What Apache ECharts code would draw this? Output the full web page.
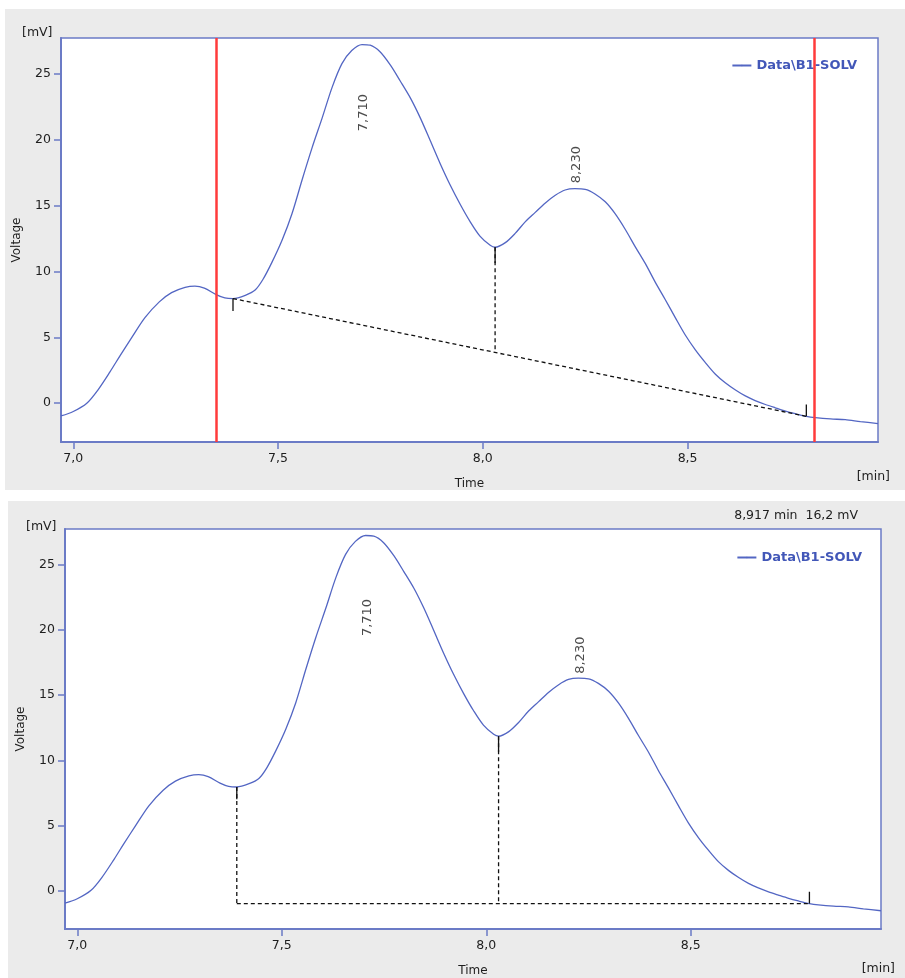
<!DOCTYPE html>
<html><head><meta charset="utf-8">
<script src="https://cdn.jsdelivr.net/npm/echarts@6/dist/echarts.min.js"></script>
<style>html,body{margin:0;padding:0;background:#fff}#c{width:905px;height:978px}</style>
</head><body><div id="c"></div>
<script>
const seriesName = 'Data\\B1-SOLV';
const timeMin = [
  6.970, 7.000, 7.033, 7.060, 7.090, 7.114, 7.143, 7.175, 7.210, 7.240,
  7.273, 7.297, 7.320, 7.349, 7.370, 7.390, 7.420, 7.444, 7.463, 7.485,
  7.510, 7.534, 7.559, 7.583, 7.608, 7.632, 7.656, 7.680, 7.705, 7.725,
  7.749, 7.774, 7.798, 7.823, 7.847, 7.871, 7.896, 7.920, 7.945, 7.969,
  7.993, 8.018, 8.030, 8.055, 8.079, 8.104, 8.128, 8.152, 8.177, 8.201,
  8.225, 8.250, 8.274, 8.299, 8.323, 8.348, 8.372, 8.397, 8.421, 8.445,
  8.470, 8.494, 8.519, 8.543, 8.568, 8.592, 8.617, 8.641, 8.665, 8.690,
  8.714, 8.739, 8.763, 8.790, 8.812, 8.849, 8.885, 8.922, 8.965
];
const voltageMV = [
  -0.97, -0.63, 0.00, 1.00, 2.40, 3.60, 5.00, 6.50, 7.70, 8.40,
  8.80, 8.90, 8.75, 8.25, 8.00, 7.95, 8.20, 8.60, 9.40, 10.70,
  12.40, 14.40, 17.00, 19.40, 21.70, 24.00, 25.80, 26.80, 27.25, 27.20,
  26.70, 25.70, 24.50, 23.20, 21.70, 20.00, 18.20, 16.60, 15.10, 13.80,
  12.70, 12.00, 11.85, 12.20, 12.90, 13.80, 14.50, 15.20, 15.80, 16.20,
  16.30, 16.25, 15.90, 15.30, 14.40, 13.20, 11.90, 10.60, 9.20, 7.90,
  6.50, 5.20, 4.05, 3.10, 2.20, 1.55, 1.00, 0.55, 0.20, -0.10,
  -0.35, -0.60, -0.80, -1.00, -1.10, -1.20, -1.25, -1.40, -1.55
];
const xTicks = [7.0, 7.5, 8.0, 8.5];
const yTicks = [0, 5, 10, 15, 20, 25];
const xRange = [6.97, 8.965];
const yRange = [-2.95, 27.75];
const peakTimes = [7.710, 8.230];
const peakHeights = [27.25, 16.3];
const integrationLimits = [7.349, 8.811];
const peakStart = [7.39, 7.95];
const peakValley = [8.03, 11.85];
const peakEnd = [8.79, -1.0];
const cursorReadout = '8,917 min  16,2 mV';

const FONT = '"DejaVu Sans", sans-serif';
const AXIS_BLUE = '#6b7bc6';
const LINE_BLUE = '#5366c3';
const TXT = '#1e1e1e';
const fmt = (v, d) => v.toFixed(d).replace('.', ',');

const chart = echarts.init(document.getElementById('c'));
const curve = timeMin.map((t, i) => [t, voltageMV[i]]);
const baseAt = t => peakStart[1] + (t - peakStart[0]) / (peakEnd[0] - peakStart[0]) * (peakEnd[1] - peakStart[1]);

const grids = [
  {left: 61, top: 38, width: 817, height: 404},
  {left: 65, top: 529, width: 816, height: 405}
];

function axes(i) {
  const x = {
    type: 'value', gridIndex: i, min: xRange[0], max: xRange[1],
    name: 'Time', nameLocation: 'middle', nameGap: 36,
    nameTextStyle: {fontFamily: FONT, fontSize: 12, color: TXT},
    axisLine: {show: true, onZero: false, lineStyle: {color: AXIS_BLUE, width: 2}},
    axisTick: {show: true, length: 7, customValues: xTicks, lineStyle: {color: AXIS_BLUE, width: 1.5}},
    axisLabel: {customValues: xTicks, margin: 10, fontFamily: FONT, fontSize: 12.5, color: TXT, formatter: v => fmt(v, 1)},
    splitLine: {show: false}
  };
  const y = {
    type: 'value', gridIndex: i, min: yRange[0], max: yRange[1],
    name: 'Voltage', nameLocation: 'middle', nameGap: 38,
    nameTextStyle: {fontFamily: FONT, fontSize: 12, color: TXT},
    axisLine: {show: true, onZero: false, lineStyle: {color: AXIS_BLUE, width: 2}},
    axisTick: {show: true, length: 7, customValues: yTicks, lineStyle: {color: AXIS_BLUE, width: 1.5}},
    axisLabel: {customValues: yTicks, margin: 10, fontFamily: FONT, fontSize: 12.5, color: TXT, formatter: v => String(v)},
    splitLine: {show: false}
  };
  return [x, y];
}

let segCount = 0;
function seg(i, pts, dashed) {
  segCount++;
  return {
    type: 'line', name: '_seg' + segCount, xAxisIndex: i, yAxisIndex: i,
    data: pts, symbol: 'none', silent: true, animation: false,
    lineStyle: {color: '#111', width: 1.3, type: dashed ? [4, 3] : 'solid'}
  };
}

const series = [];
// label shift in px: positive = up (rotated label frame)
const labelShift = [[-68, 24], [-82, 23]];
[0, 1].forEach(i => {
  const main = {
    type: 'line', name: seriesName, xAxisIndex: i, yAxisIndex: i,
    data: curve, symbol: 'none', smooth: 0.3, animation: false,
    lineStyle: {color: LINE_BLUE, width: 1.3}, itemStyle: {color: LINE_BLUE}
  };
  if (i === 0) {
    main.markLine = {
      silent: true, symbol: ['none', 'none'], animation: false,
      label: {show: false},
      lineStyle: {color: '#ff3b3b', width: 2.5, type: 'solid'},
      data: integrationLimits.map(v => ({xAxis: v}))
    };
  }
  series.push(main);
  if (i === 0) {
    series.push(seg(i, [peakStart, peakEnd], true));
    series.push(seg(i, [peakValley, [peakValley[0], baseAt(peakValley[0])]], true));
  } else {
    series.push(seg(i, [[peakStart[0], peakEnd[1]], peakEnd], true));
    series.push(seg(i, [peakStart, [peakStart[0], peakEnd[1]]], true));
    series.push(seg(i, [peakValley, [peakValley[0], peakEnd[1]]], true));
  }
  series.push(seg(i, [peakStart, [peakStart[0], peakStart[1] - 0.95]], false));
  series.push(seg(i, [peakValley, [peakValley[0], peakValley[1] - 1.2]], false));
  series.push(seg(i, [peakEnd, [peakEnd[0], peakEnd[1] + 0.9]], false));
  series.push({
    type: 'scatter', name: '_lbl' + i, xAxisIndex: i, yAxisIndex: i, symbolSize: 0, silent: true, animation: false,
    data: peakTimes.map((t, k) => ({
      value: [t, peakHeights[k]],
      label: {
        show: true, position: 'inside', rotate: 90, offset: [labelShift[i][k], 0],
        formatter: fmt(t, 3), fontFamily: FONT, fontSize: 13, color: TXT
      }
    }))
  });
});

const option = {
  animation: false,
  backgroundColor: '#ffffff',
  graphic: [
    {type: 'rect', z: -100, silent: true, shape: {x: 5, y: 9, width: 900, height: 481}, style: {fill: '#ebebeb'}},
    {type: 'rect', z: -100, silent: true, shape: {x: 8, y: 501, width: 897, height: 477}, style: {fill: '#ebebeb'}},
    {type: 'text', left: 22, top: 26, style: {text: '[mV]', font: '12.5px ' + FONT, fill: TXT}},
    {type: 'text', left: 26, top: 520, style: {text: '[mV]', font: '12.5px ' + FONT, fill: TXT}},
    {type: 'text', right: 15, top: 470, style: {text: '[min]', font: '12.5px ' + FONT, fill: TXT}},
    {type: 'text', right: 10, top: 962, style: {text: '[min]', font: '12.5px ' + FONT, fill: TXT}},
    {type: 'text', right: 47, top: 509, style: {text: cursorReadout, font: '12.5px ' + FONT, fill: TXT}}
  ],
  grid: grids.map(g => Object.assign({show: true, backgroundColor: '#ffffff', borderColor: AXIS_BLUE, borderWidth: 1.5}, g)),
  legend: [
    {data: [seriesName], right: 43, top: 54, itemWidth: 19, itemHeight: 2, itemGap: 5, selectedMode: false,
     textStyle: {fontFamily: FONT, fontSize: 13, fontWeight: 'bold', color: '#4257b8'}},
    {data: [seriesName], right: 38, top: 546, itemWidth: 19, itemHeight: 2, itemGap: 5, selectedMode: false,
     textStyle: {fontFamily: FONT, fontSize: 13, fontWeight: 'bold', color: '#4257b8'}}
  ],
  xAxis: [axes(0)[0], axes(1)[0]],
  yAxis: [axes(0)[1], axes(1)[1]],
  series: series
};
chart.setOption(option);
</script></body></html>
